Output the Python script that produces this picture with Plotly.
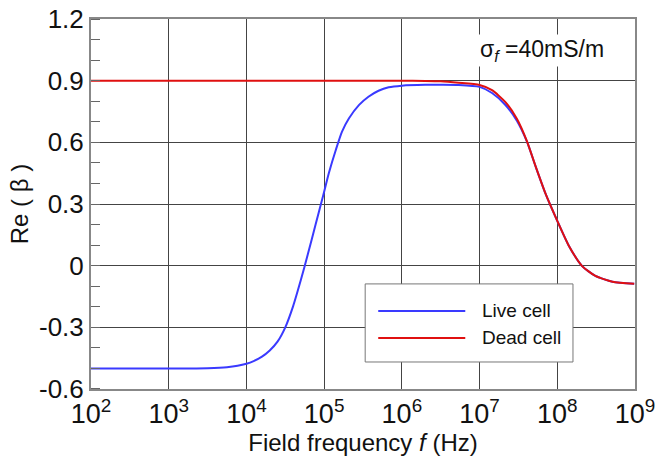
import plotly.graph_objects as go

# Live cell: log10(frequency / Hz) and Re(beta)
live_log_f = [2.0, 2.5, 3.0, 3.5, 3.75, 4.0, 4.1, 4.2, 4.3, 4.4, 4.5, 4.6, 4.7, 4.79,
              4.89, 4.98, 5.06, 5.15, 5.23, 5.32, 5.45, 5.57, 5.7, 5.83, 6.0, 6.3,
              6.5, 6.73, 7.0, 7.16, 7.33, 7.48, 7.61, 7.72, 7.85, 8.0, 8.15, 8.32,
              8.49, 8.71, 8.99]
live_cell = [-0.500, -0.500, -0.500, -0.499, -0.494, -0.477, -0.463, -0.443, -0.413,
             -0.37, -0.30, -0.198, -0.07, 0.055, 0.20, 0.33, 0.45, 0.563, 0.652,
             0.717, 0.782, 0.822, 0.851, 0.868, 0.876, 0.88, 0.88, 0.879, 0.87,
             0.84, 0.783, 0.705, 0.603, 0.484, 0.349, 0.218, 0.096, -0.002, -0.05,
             -0.078, -0.088]

# Dead cell
dead_log_f = [2.0, 3.0, 4.0, 5.0, 6.0, 6.3, 6.5, 6.73, 7.0, 7.16, 7.33, 7.48, 7.61,
              7.72, 7.85, 8.0, 8.15, 8.32, 8.49, 8.71, 8.99]
dead_cell = [0.900, 0.900, 0.900, 0.900, 0.900, 0.899, 0.897, 0.89, 0.879, 0.854,
             0.797, 0.715, 0.605, 0.484, 0.349, 0.218, 0.096, -0.002, -0.05, -0.078,
             -0.088]

live_freq = [10 ** v for v in live_log_f]
dead_freq = [10 ** v for v in dead_log_f]

x_tickvals = [1e2, 1e3, 1e4, 1e5, 1e6, 1e7, 1e8, 1e9]
x_ticktext = ["10<sup>%d</sup>" % e for e in range(2, 10)]
y_tickvals = [-0.6, -0.3, 0, 0.3, 0.6, 0.9, 1.2]
y_ticktext = ["-0.6", "-0.3", "0", "0.3", "0.6", "0.9", "1.2"]

FONT = "Liberation Sans, Arial, sans-serif"
BLUE = "#3a3aff"
RED = "#e01010"

fig = go.Figure()
fig.add_trace(go.Scatter(x=live_freq, y=live_cell, mode="lines", name="Live cell",
                         line=dict(color=BLUE, width=2, shape="spline", smoothing=0.6),
                         showlegend=False))
fig.add_trace(go.Scatter(x=dead_freq, y=dead_cell, mode="lines", name="Dead cell",
                         line=dict(color=RED, width=2, shape="spline", smoothing=0.6),
                         showlegend=False))

fig.update_layout(
    width=656, height=460,
    margin=dict(l=91, r=21, t=19, b=71, autoexpand=False),
    paper_bgcolor="white", plot_bgcolor="white",
    font=dict(family=FONT, color="#111", size=24),
    xaxis=dict(type="log", range=[2, 9], tickvals=x_tickvals, ticktext=x_ticktext,
               showgrid=True, gridcolor="#444", gridwidth=1,
               showline=True, linecolor="#888", linewidth=2, mirror=True,
               ticks="", tickfont=dict(size=27), automargin=False,
               ticklabeloverflow="allow",
               title=dict(text="Field frequency <i>f</i> (Hz)", font=dict(size=24), standoff=2),
               zeroline=False),
    yaxis=dict(range=[-0.6002, 1.2002], tickvals=y_tickvals, ticktext=y_ticktext,
               showgrid=True, gridcolor="#444", gridwidth=1,
               showline=True, linecolor="#888", linewidth=2, mirror=True,
               ticks="", tickfont=dict(size=26), automargin=False,
               ticklabeloverflow="allow",
               minor=dict(dtick=0.1, tick0=0, ticks="inside", ticklen=9,
                          tickcolor="#666", tickwidth=1, showgrid=False),
               title=dict(text="Re ( β )", font=dict(size=24), standoff=4),
               zeroline=False),
)

# annotation sigma
fig.add_annotation(xref="paper", yref="paper", x=0.829, y=0.916,
                   xanchor="center", yanchor="middle",
                   text="σ<sub><i>f</i></sub> =40mS/m", showarrow=False,
                   font=dict(size=23, family=FONT, color="#111"), bgcolor="white")

# manual legend
fig.add_shape(type="rect", xref="paper", yref="paper", x0=0.504, x1=0.886,
              y0=0.073, y1=0.284, fillcolor="white", line=dict(color="#777", width=1),
              layer="above")
fig.add_shape(type="line", xref="paper", yref="paper", x0=0.528, x1=0.688,
              y0=0.211, y1=0.211, line=dict(color=BLUE, width=2), layer="above")
fig.add_shape(type="line", xref="paper", yref="paper", x0=0.528, x1=0.688,
              y0=0.138, y1=0.138, line=dict(color=RED, width=2), layer="above")
fig.add_annotation(xref="paper", yref="paper", x=0.715, y=0.211, xanchor="left",
                   yanchor="middle", text="Live cell", showarrow=False,
                   font=dict(size=19, family=FONT, color="#111"))
fig.add_annotation(xref="paper", yref="paper", x=0.715, y=0.138, xanchor="left",
                   yanchor="middle", text="Dead cell", showarrow=False,
                   font=dict(size=19, family=FONT, color="#111"))

fig.write_html("out.html", config={"displayModeBar": False},
               post_script="document.body.style.margin='0';document.body.style.overflow='hidden';")
